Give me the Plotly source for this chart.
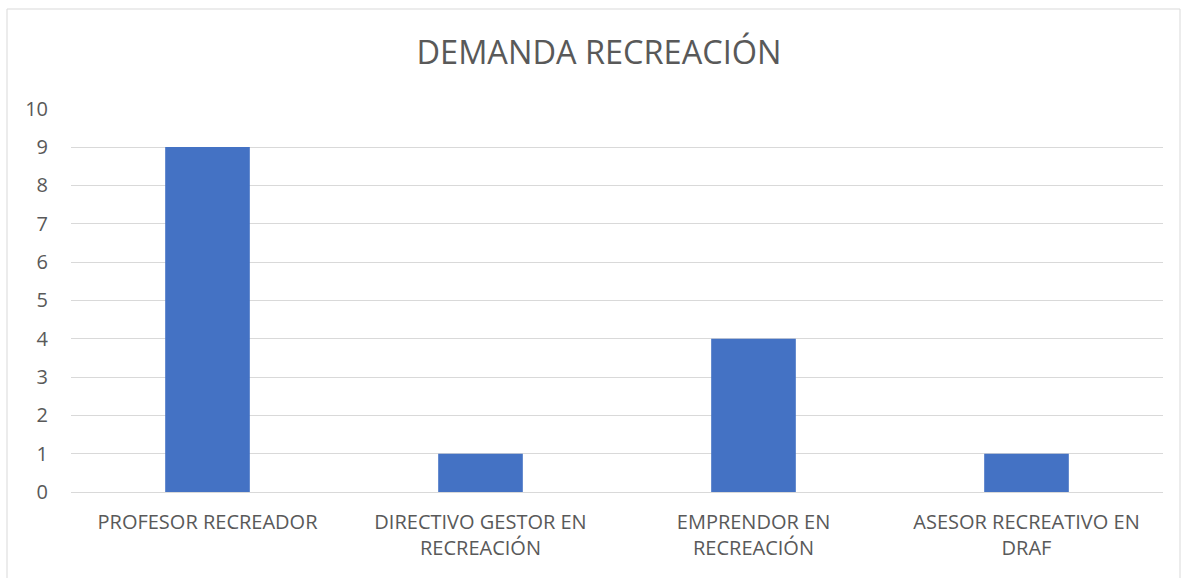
import plotly.graph_objects as go

categories = ["PROFESOR RECREADOR", "DIRECTIVO GESTOR EN<br>RECREACIÓN", "EMPRENDOR EN<br>RECREACIÓN", "ASESOR RECREATIVO EN<br>DRAF"]
values = [9, 1, 4, 1]
y_ticks = list(range(0, 11))

W, H = 1182, 578
L, R, T, B = 71, 19, 108, 86
pw = W - L - R
ph = H - T - B

fig = go.Figure()
fig.add_trace(go.Bar(x=categories, y=values, marker=dict(color="#4472C4", line=dict(width=0)), width=0.31,
                     hoverinfo="skip"))

fig.update_layout(
    width=W, height=H,
    margin=dict(l=L, r=R, t=T, b=B),
    paper_bgcolor="white", plot_bgcolor="white",
    font=dict(family="Open Sans", color="#595959", size=20),
    title=dict(text="DEMANDA RECREACIÓN", x=599 / W, xanchor="center", y=1 - 53 / H, yanchor="middle",
               font=dict(size=32.5, color="#595959")),
    showlegend=False,
    bargap=0.69,
)
fig.update_yaxes(range=[0, 10.02], tickvals=y_ticks, showgrid=True, gridcolor="#d9d9d9", gridwidth=1,
                 zeroline=False, showline=False, ticks="", ticklabelstandoff=22, fixedrange=True)
fig.update_xaxes(showgrid=False, showline=True, linecolor="#d9d9d9", linewidth=1, ticks="",
                 ticklabelstandoff=12, fixedrange=True)
fig.add_shape(type="rect", xref="paper", yref="paper",
              x0=(7 - L) / pw, x1=(1180 - L) / pw, y0=-(H + 10 - T - ph) / ph, y1=1 + (T - 9) / ph,
              line=dict(color="#d9d9d9", width=1), fillcolor="rgba(0,0,0,0)", layer="below")
fig.write_html("out.html", config={"displayModeBar": False},
               post_script="document.body.style.margin='0';")
